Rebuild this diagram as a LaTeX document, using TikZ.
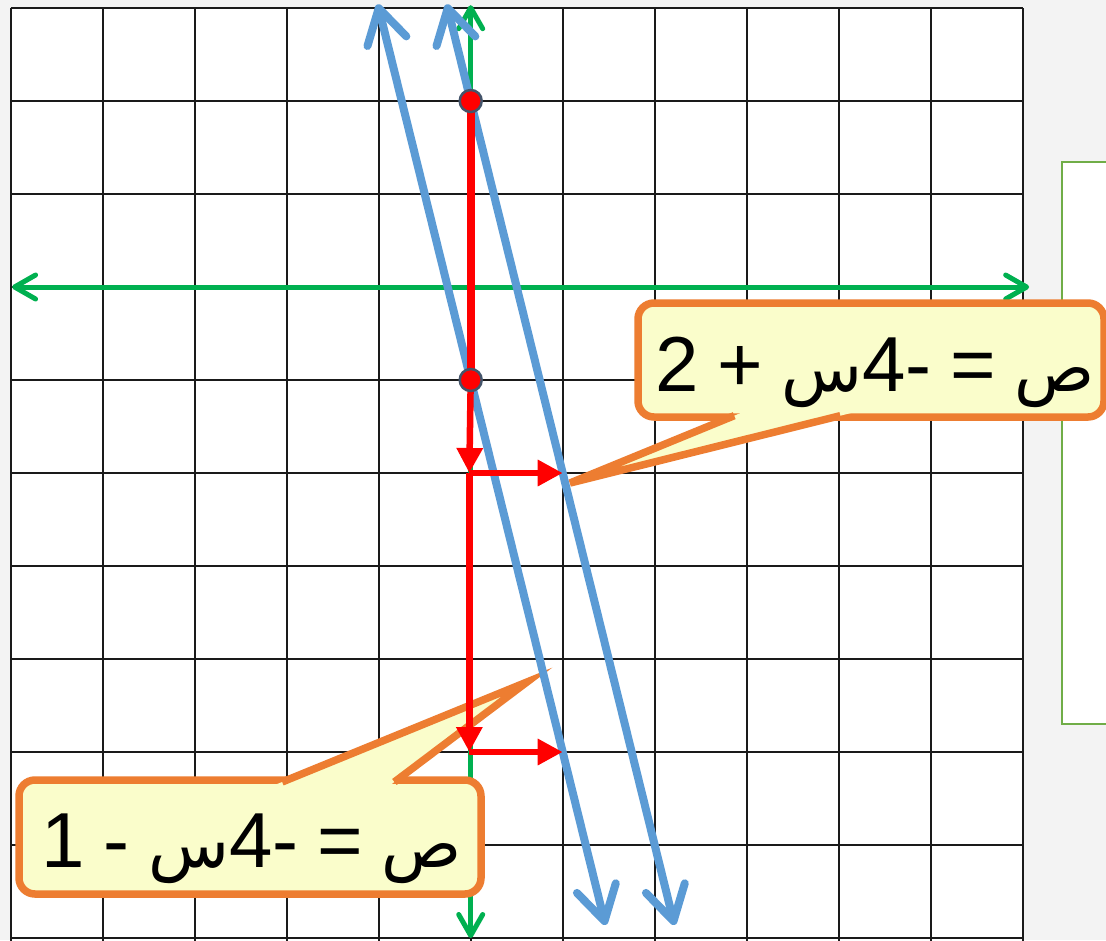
\documentclass[tikz,border=0pt]{standalone}
\usepackage{fontspec}
\setmainfont{Liberation Sans}
\newfontfamily\arabicfont[Script=Arabic,Scale=0.85]{DejaVu Sans}
\TeXXeTstate=1
\usetikzlibrary{arrows.meta,calc}
\newcommand\eqfontsel{\fontsize{78pt}{90pt}\selectfont\spaceskip=18.7pt\relax}
\definecolor{gridc}{HTML}{1A1A1A}
\definecolor{axisg}{HTML}{00B050}
\definecolor{lineb}{HTML}{5B9BD5}
\definecolor{redc}{HTML}{FF0000}
\definecolor{dotedge}{HTML}{44546A}
\definecolor{callfill}{HTML}{FAFDCB}
\definecolor{callline}{HTML}{ED7D31}
\definecolor{boxg}{HTML}{70AD47}
\definecolor{bgc}{HTML}{F3F3F3}
\tikzset{
  gridline/.style={draw=gridc, line width=2pt},
  axisline/.style={draw=axisg, line width=5pt,
    arrows={Straight Barb[length=21pt,width=24pt,round]-Straight Barb[length=21pt,width=24pt,round]}},
  graphline/.style={draw=lineb, line width=8pt,
    arrows={Straight Barb[length=34pt,width=40pt,round]-Straight Barb[length=34pt,width=40pt,round]}},
  redthick/.style={draw=redc, line width=8pt},
  redarrow/.style={draw=redc, line width=6.5pt, -{Triangle[length=25pt,width=25pt]}},
  reddot/.style={circle, fill=redc, draw=dotedge, line width=2.5pt, minimum size=22pt, inner sep=0pt},
  callbox/.style={draw=callline, fill=callfill, line width=7.5pt, rounded corners=16pt},
  callptr/.style={draw=callline, line width=7.5pt, line join=miter},
  greenbox/.style={draw=boxg, fill=white, line width=2.5pt},
  eqtext/.style={font=\eqfontsel, inner sep=0pt, text=black}
}
\begin{document}
\begin{tikzpicture}[x=1pt,y=-1pt]
\useasboundingbox (0,0) rectangle (1106,940);
\fill[bgc] (0,0) rectangle (1106,940);
\clip (0,0) rectangle (1106,940);
% right green box
\draw[greenbox] (1062,162) rectangle (1130,724);
\begin{scope}[shift={(470.7pt,-287pt)},x=92pt,y=93pt]
  \fill[white] (-5,3) rectangle (6,-7.2);
  \foreach \i in {-5,...,6} \draw[gridline] (\i,3) -- (\i,-7.2);
  \foreach \j in {-7,...,3} \draw[gridline] (-5,\j) -- (6,\j);
  \coordinate (xl) at (-4.985,0);
  \coordinate (xr) at (6.07,0);
  \coordinate (yt) at (0,3.03);
  \coordinate (yb) at (0,-7.0);
  \draw[axisline] (xl) -- (xr);
  \draw[axisline] (yt) -- (yb);
  % graph line end points
  \coordinate (a1) at (-0.26,3.04);
  \coordinate (a2) at (2.215,-6.86);
  \coordinate (b1) at (-1.01,3.04);
  \coordinate (b2) at (1.465,-6.86);
  % red construction points
  \coordinate (pc) at (0,2);
  \coordinate (qc) at (0,-1);
  \coordinate (r) at (-0.015,-2);
  \coordinate (r2) at (1,-2);
  \coordinate (s) at (-0.015,-5);
  \coordinate (s2) at (1,-5);
\end{scope}
% callout 1
\coordinate (t1) at (570,483);
\coordinate (b1l) at (731,417);
\coordinate (b1r) at (835,417);
\draw[callbox] (638,303) rectangle (1104,417);
\fill[callfill] ($(t1)!1.1!(b1l)$) -- (t1) -- ($(t1)!1.1!(b1r)$) -- cycle;
\draw[callptr] ($(t1)!1.02!(b1l)$) -- (t1) -- ($(t1)!1.02!(b1r)$);
\node[eqtext, anchor=base] (e1) at (875,391) {\beginR{\arabicfont ص} = -\kern0pt 4{\arabicfont س} + 2\endR};
% callout 2
\coordinate (t2) at (527,682);
\coordinate (b2l) at (287,780);
\coordinate (b2r) at (397,780);
\draw[callbox] (19,780) rectangle (481,894);
\fill[callfill] ($(t2)!1.1!(b2l)$) -- (t2) -- ($(t2)!1.1!(b2r)$) -- cycle;
\draw[callptr] ($(t2)!1.02!(b2l)$) -- (t2) -- ($(t2)!1.02!(b2r)$);
\node[eqtext, anchor=base] (e2) at (252,867) {\beginR{\arabicfont ص} = -\kern0pt 4{\arabicfont س} - 1\endR};
% graph lines
\draw[graphline] (a1) -- (a2);
\draw[graphline] (b1) -- (b2);
% red construction
\draw[redthick] (pc) -- (qc);
\draw[redarrow] (qc) -- (r);
\draw[redarrow] (r) -- (r2);
\draw[redarrow] (r) -- (s);
\draw[redarrow] (s) -- (s2);
\node[reddot] (p) at (pc) {};
\node[reddot] (q) at (qc) {};
\end{tikzpicture}
\end{document}
